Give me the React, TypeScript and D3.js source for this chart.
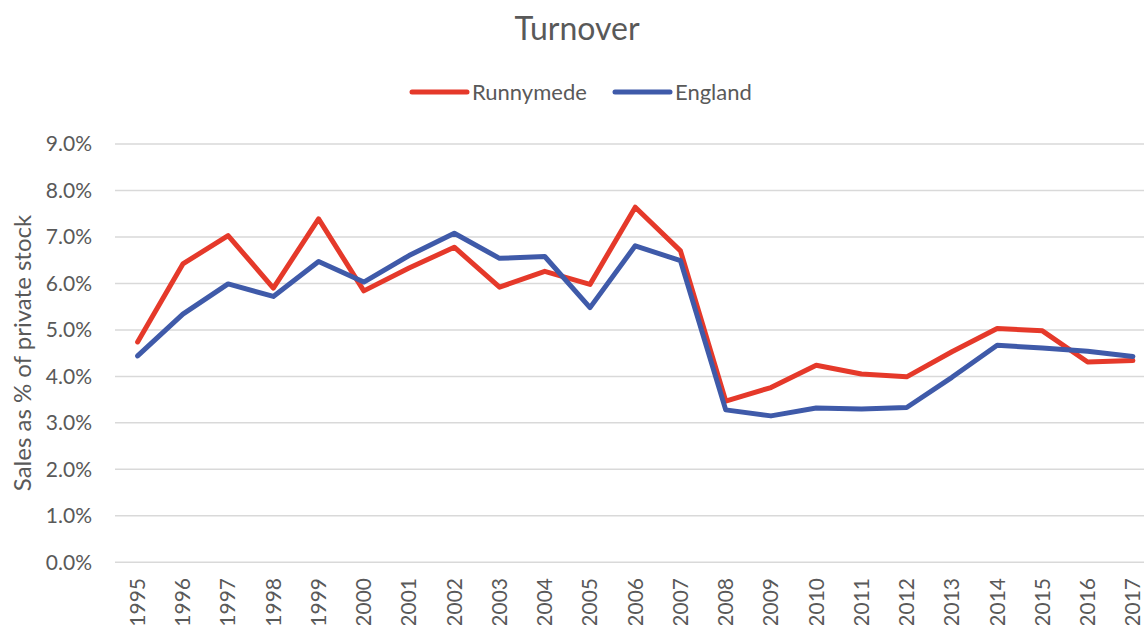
import { useEffect, useRef } from 'react';
import * as d3 from 'd3';

const years = [
  '1995', '1996', '1997', '1998', '1999', '2000', '2001', '2002', '2003', '2004', '2005', '2006',
  '2007', '2008', '2009', '2010', '2011', '2012', '2013', '2014', '2015', '2016', '2017',
];

// percent of private stock sold
const runnymede = [
  4.74, 6.42, 7.03, 5.9, 7.39, 5.84, 6.33, 6.78, 5.92, 6.26, 5.98, 7.64, 6.7, 3.47, 3.76, 4.24,
  4.05, 3.99, 4.53, 5.03, 4.98, 4.31, 4.34,
];
const england = [
  4.44, 5.34, 5.99, 5.72, 6.47, 6.03, 6.6, 7.08, 6.54, 6.58, 5.48, 6.81, 6.49, 3.28, 3.15, 3.32,
  3.3, 3.33, 3.98, 4.67, 4.61, 4.54, 4.43,
];

const yTicks = [0, 1, 2, 3, 4, 5, 6, 7, 8, 9];

const seriesNames = ['Runnymede', 'England'];
const seriesColors = ['#E5392A', '#3F5AA9'];

const FONT = 'Lato, "Open Sans", sans-serif';
const TEXT = '#595959';

export default function App() {
  const svgRef = useRef<SVGSVGElement>(null);

  useEffect(() => {
    if (!svgRef.current) return;
    document.body.style.margin = '0';

    const width = 1144;
    const height = 625;
    const plot = { left: 115, right: 1155.5, top: 144, bottom: 562.3 };

    const svg = d3.select(svgRef.current);
    svg.selectAll('*').remove();

    const x = d3.scalePoint<string>().domain(years).range([plot.left, plot.right]).padding(0.5);
    const y = d3.scaleLinear().domain([0, 9]).range([plot.bottom, plot.top]);

    // Title
    svg
      .append('text')
      .attr('x', 577)
      .attr('y', 40)
      .attr('text-anchor', 'middle')
      .attr('font-family', FONT)
      .attr('font-size', 32)
      .attr('fill', TEXT)
      .text('Turnover');

    // Gridlines
    svg
      .append('g')
      .selectAll('line')
      .data(yTicks)
      .enter()
      .append('line')
      .attr('x1', plot.left)
      .attr('x2', width)
      .attr('y1', (d) => y(d))
      .attr('y2', (d) => y(d))
      .attr('stroke', '#D9D9D9')
      .attr('stroke-width', 1.5);

    // Y tick labels
    svg
      .append('g')
      .selectAll('text')
      .data(yTicks)
      .enter()
      .append('text')
      .attr('x', 92)
      .attr('y', (d) => y(d))
      .attr('dy', '0.35em')
      .attr('text-anchor', 'end')
      .attr('font-family', FONT)
      .attr('font-size', 21)
      .attr('fill', TEXT)
      .text((d) => `${d.toFixed(1)}%`);

    // Y axis title
    svg
      .append('text')
      .attr('transform', `translate(31,353) rotate(-90)`)
      .attr('text-anchor', 'middle')
      .attr('font-family', FONT)
      .attr('font-size', 24)
      .attr('fill', TEXT)
      .text('Sales as % of private stock');

    // X tick labels
    svg
      .append('g')
      .selectAll('text')
      .data(years)
      .enter()
      .append('text')
      .attr('transform', (d) => `translate(${x(d)},578) rotate(-90)`)
      .attr('dy', '0.35em')
      .attr('text-anchor', 'end')
      .attr('font-family', FONT)
      .attr('font-size', 21)
      .attr('fill', TEXT)
      .text((d) => d);

    // Lines
    const line = d3
      .line<number>()
      .x((_d, i) => x(years[i]) ?? 0)
      .y((d) => y(d));

    [runnymede, england].forEach((values, i) => {
      svg
        .append('path')
        .datum(values)
        .attr('d', line)
        .attr('fill', 'none')
        .attr('stroke', seriesColors[i])
        .attr('stroke-width', 5)
        .attr('stroke-linejoin', 'round')
        .attr('stroke-linecap', 'round');
    });

    // Legend
    const legendX = [412, 615];
    const legend = svg.append('g');
    seriesNames.forEach((name, i) => {
      legend
        .append('line')
        .attr('x1', legendX[i])
        .attr('x2', legendX[i] + 55)
        .attr('y1', 92)
        .attr('y2', 92)
        .attr('stroke', seriesColors[i])
        .attr('stroke-width', 5)
        .attr('stroke-linecap', 'round');
      legend
        .append('text')
        .attr('x', legendX[i] + 60)
        .attr('y', 92)
        .attr('dy', '0.35em')
        .attr('font-family', FONT)
        .attr('font-size', 22)
        .attr('fill', TEXT)
        .text(name);
    });

    svg.attr('width', width).attr('height', height);
  }, []);

  return <svg ref={svgRef} width={1144} height={625} style={{ display: 'block', background: '#fff' }} />;
}
